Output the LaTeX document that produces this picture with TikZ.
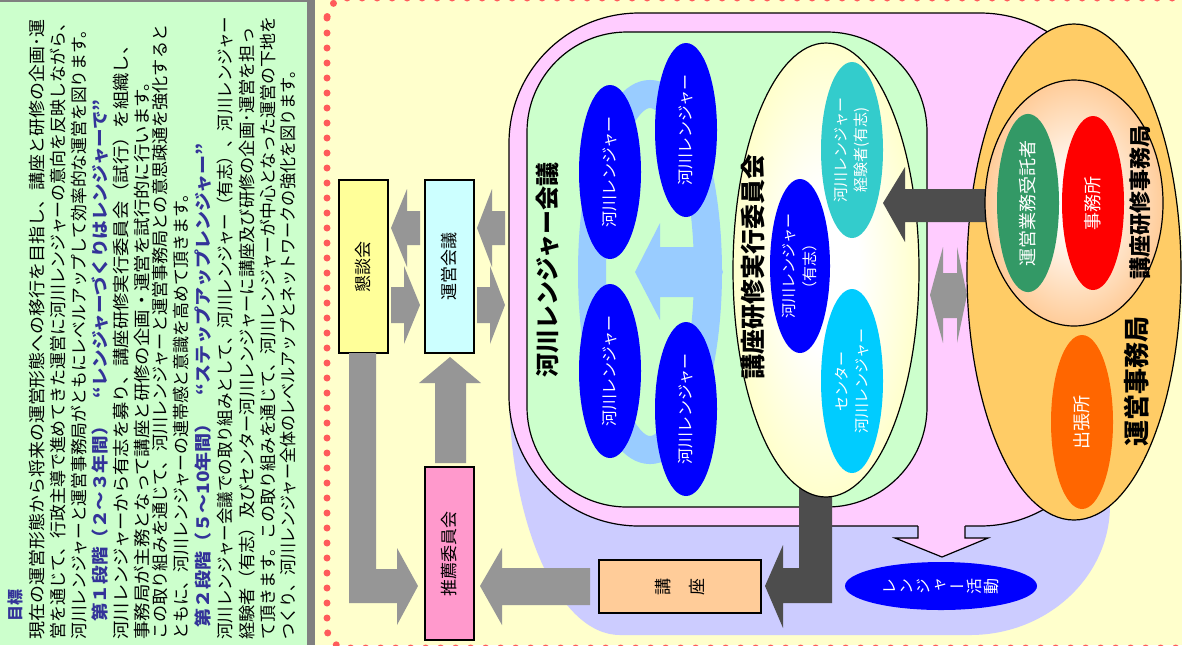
\documentclass[tikz,border=0pt]{standalone}
\usepackage{fontspec}
\usepackage{graphicx}
\setmainfont{Noto Sans CJK JP}
\newfontfamily\vjp[RawFeature={+vert}]{Noto Sans CJK JP}
\usetikzlibrary{shapes.geometric}
\definecolor{panelgreen}{HTML}{CCFFCC}
\definecolor{bgyel}{HTML}{FFFFCC}
\definecolor{barGrey}{HTML}{808080}
\definecolor{dotred}{HTML}{FF5B5B}
\definecolor{lav}{HTML}{CCCCFF}
\definecolor{pinkA}{HTML}{FFCCFF}
\definecolor{kondanc}{HTML}{FFFF99}
\definecolor{ueic}{HTML}{CCFFFF}
\definecolor{suisenc}{HTML}{FF99CC}
\definecolor{kozac}{HTML}{FFCC99}
\definecolor{agrey}{HTML}{969696}
\definecolor{adark}{HTML}{4D4D4D}
\definecolor{lblue}{HTML}{99CCFF}
\definecolor{rblue}{HTML}{0000FF}
\definecolor{tealc}{HTML}{33CCCC}
\definecolor{cyanc}{HTML}{00CCFF}
\definecolor{orangeA}{HTML}{FFCC66}
\definecolor{peachc}{HTML}{FFCC99}
\definecolor{greenc}{HTML}{339966}
\definecolor{redc}{HTML}{FF0000}
\definecolor{orred}{HTML}{FF6600}
\definecolor{txtblue}{HTML}{333399}
\pgfdeclareradialshading{yglow}{\pgfpoint{0bp}{0bp}}{color(0bp)=(white); color(9bp)=(white); color(25bp)=(bgyel); color(50bp)=(bgyel)}
\pgfdeclareradialshading{pglow}{\pgfpoint{0bp}{0bp}}{color(0bp)=(white); color(5bp)=(white); color(25bp)=(peachc); color(50bp)=(peachc)}
\newcommand{\jline}[5]{\node (ln#1) [rotate=90,anchor=west,inner sep=0pt,font=\fontsize{8.5}{10}\selectfont,#5] at (#1,#2) {\resizebox{#3pt}{\height}{#4}};}
\begin{document}
\begin{tikzpicture}[x=0.5pt,y=-0.5pt,
  ell/.style={ellipse, rotate=90, inner sep=0pt, text=white, align=center},
  boxn/.style={draw=black, line width=0.6pt, rotate=90, inner sep=0pt, minimum width=86.5pt, minimum height=24.5pt, font=\fontsize{8.5}{10}\selectfont},
  titlen/.style={rotate=90, inner sep=0pt},
  bluetxt/.style={font=\fontsize{8.5}{10}\selectfont\bfseries, text=txtblue},
  outl/.style={draw=black, line width=0.6pt}]
\useasboundingbox (0,0) rectangle (1182,645);
% panels
\fill[panelgreen] (0,0) rectangle (308,645);
\fill[barGrey] (307,0) rectangle (315,645);
\fill[barGrey] (0,0) rectangle (315,1.5);
\fill[bgyel] (315,0) rectangle (1182,645);
\draw[dotred, line width=3.5pt, dash pattern=on 0pt off 7.5pt, line cap=round, rounded corners=10pt] (327,-2) rectangle (1210,648);
% lavender
\fill[lav] (509,150) -- (509,387) arc[start angle=180, end angle=90, x radius=111, y radius=248] -- (970,635) arc[start angle=90, end angle=0, x radius=140, y radius=130] -- (1110,150) -- cycle;
% pink area
\node (pinkarea) [outl, fill=pinkA, rounded corners=65pt, minimum width=300.5pt, minimum height=256.5pt, inner sep=0pt] at (809.5,269.5) {};
\fill[pinkA] (918,520) -- (918,538) -- (895,538) -- (942,557) -- (988,538) -- (965,538) -- (965,520) -- cycle;
\draw[line width=0.6pt] (918,526) -- (918,538) -- (895,538) -- (942,557) -- (988,538) -- (965,538) -- (965,526);
% green area
\node (greenarea) [outl, fill=panelgreen, rounded corners=50pt, minimum width=200pt, minimum height=237.5pt, inner sep=0pt] at (727,269.5) {};
\draw[lblue, line width=14pt] (650,272) ellipse [x radius=58, y radius=178];
\fill[lblue] (635,272) -- (660,223) -- (660,247) -- (700,247) -- (700,223) -- (723,272) -- (700,320) -- (700,297) -- (660,297) -- (660,320) -- cycle;
\node (r1) [ell, fill=rblue, minimum width=87pt, minimum height=31pt, font=\fontsize{8}{9}\selectfont] at (610,172) {河川レンジャー};
\node (r2) [ell, fill=rblue, minimum width=87pt, minimum height=31pt, font=\fontsize{8}{9}\selectfont] at (686,130) {河川レンジャー};
\node (r3) [ell, fill=rblue, minimum width=87pt, minimum height=31pt, font=\fontsize{8}{9}\selectfont] at (610,371) {河川レンジャー};
\node (r4) [ell, fill=rblue, minimum width=87pt, minimum height=31pt, font=\fontsize{8}{9}\selectfont] at (686,409) {河川レンジャー};
\node (kaigiT) [titlen, font=\fontsize{12}{12}\selectfont\bfseries] at (548,270) {河川レンジャー会議};
% dark L arrow to koza
\fill[adark] (799,470) -- (832,470) -- (832,603) -- (783,603) -- (783,628) -- (765,586) -- (783,545) -- (783,568) -- (799,568) -- cycle;
% jikko ellipse
\node (jikko) [ellipse, outl, shade, shading=yglow, minimum width=93pt, minimum height=227pt] at (826,270) {};
\node (jikkoT) [titlen, font=\fontsize{12.5}{12.5}\selectfont\bfseries] at (753,267) {講座研修実行委員会};
\node (yusi) [ell, fill=rblue, minimum width=87pt, minimum height=30pt, font=\fontsize{7.5}{10.5}\selectfont] at (800,266) {河川レンジャー\\（有志）};
\node (keiken) [ell, fill=tealc, minimum width=88pt, minimum height=31pt, font=\fontsize{7.5}{10}\selectfont] at (852,150) {河川レンジャー\\経験者(有志)};
\node (centerR) [ell, fill=cyanc, minimum width=92pt, minimum height=31pt, font=\fontsize{7.5}{10}\selectfont] at (852,381) {センター\\河川レンジャー};
% double grey arrow
\fill[agrey] (930,295) -- (943,247) -- (943,273) -- (957,273) -- (957,247) -- (967,295) -- (957,343) -- (957,318) -- (943,318) -- (943,343) -- cycle;
% unei ellipse
\node (unei) [ellipse, outl, fill=orangeA, minimum width=107pt, minimum height=248pt] at (1074,272) {};
\fill[adark] (883,203) -- (905,167) -- (905,189) -- (990,189) -- (990,222) -- (905,222) -- (905,242) -- cycle;
\node (jimu) [ellipse, outl, shade, shading=pglow, minimum width=89pt, minimum height=123pt] at (1074,203) {};
\node (jutaku) [ell, fill=greenc, minimum width=87pt, minimum height=31pt, font=\fontsize{9}{10}\selectfont] at (1028,203) {運営業務受託者};
\node (jimusho) [ell, fill=redc, minimum width=87pt, minimum height=31pt, font=\fontsize{9}{10}\selectfont] at (1093,203) {事務所};
\node (shucho) [ell, fill=orred, minimum width=87pt, minimum height=31pt, font=\fontsize{9}{10}\selectfont] at (1082,422) {出張所};
\node (jimuT) [titlen, font=\fontsize{11}{11}\selectfont\bfseries] at (1140,202) {講座研修事務局};
\node (uneiT) [titlen, font=\fontsize{13}{13}\selectfont\bfseries] at (1137,381) {運営事務局};
% left boxes
\node (kondan) [boxn, fill=kondanc] at (363.5,266.5) {懇談会};
\node (ueikaigi) [boxn, fill=ueic] at (449.5,266.5) {運営会議};
\node (suisen) [boxn, fill=suisenc] at (449.5,553.5) {推薦委員会};
\node (koza) [draw=black, line width=0.6pt, rotate=90, inner sep=0pt, fill=kozac, minimum width=26.5pt, minimum height=81pt, align=center, font=\vjp\fontsize{8.5}{17}\selectfont] at (680,586.5) {講\\座};
\node (katsudo) [ell, fill=rblue, minimum width=24pt, minimum height=96pt, font=\vjp\fontsize{8}{8.5}\selectfont] at (941,586) {レ\\ン\\ジ\\ャ\\ー\\活\\動};
% grey arrows
\fill[agrey] (391,228) -- (407,189) -- (407,211) -- (420,211) -- (420,245) -- (407,245) -- (407,267) -- cycle;
\fill[agrey] (420,305) -- (404,266) -- (404,287) -- (391,287) -- (391,323) -- (404,323) -- (404,344) -- cycle;
\fill[agrey] (477,228) -- (492,189) -- (492,211) -- (505,211) -- (505,245) -- (492,245) -- (492,267) -- cycle;
\fill[agrey] (505,305) -- (490,266) -- (490,287) -- (477,287) -- (477,323) -- (490,323) -- (490,344) -- cycle;
\fill[agrey] (450,357) -- (481,383) -- (466,383) -- (466,463) -- (435,463) -- (435,383) -- (419,383) -- cycle;
\fill[agrey] (349,353) -- (376,353) -- (376,569) -- (397,569) -- (397,548) -- (418,586) -- (397,625) -- (397,603) -- (349,603) -- cycle;
\fill[agrey] (480,586) -- (502,548) -- (502,568) -- (590,568) -- (590,605) -- (502,605) -- (502,625) -- cycle;
% text panel
\jline{15}{622}{16}{目標}{font=\fontsize{8}{9}\selectfont\bfseries, text=txtblue}
\jline{37}{640}{310}{現在の運営形態から将来の運営形態への移行を目指し、講座と研修の企画･運}{}
\jline{58}{640}{312.5}{営を通じて、行政主導で進めてきた運営に河川レンジャーの意向を反映しながら、}{}
\jline{79}{640}{309}{河川レンジャーと運営事務局がともにレベルアップして効率的な運営を図ります。}{}
\jline{100}{622}{261}{第１段階（２～３年間）　“レンジャーづくりはレンジャーで”}{bluetxt}
\jline{121}{640}{301.5}{河川レンジャーから有志を募り、講座研修実行委員会（試行）を組織し、}{}
\jline{142}{640}{283.5}{事務局が主務となって講座と研修の企画・運営を試行的に行います。}{}
\jline{160}{640}{307.5}{この取り組みを通じて、河川レンジャーと運営事務局との意思疎通を強化すると}{}
\jline{181}{640}{227}{ともに、河川レンジャーの連帯感と意識を高めて頂きます。}{}
\jline{203}{628}{242}{第２段階（５～10年間）　“ステップアップレンジャー”}{bluetxt}
\jline{225}{640}{311.5}{河川レンジャー会議での取り組みとして、河川レンジャー（有志）、河川レンジャー}{}
\jline{247}{640}{306}{経験者（有志）及びセンター河川レンジャーに講座及び研修の企画･運営を担っ}{}
\jline{268}{640}{311.5}{て頂きます。この取り組みを通じて、河川レンジャーが中心となった運営の下地を}{}
\jline{288}{640}{288.5}{つくり、河川レンジャー全体のレベルアップとネットワークの強化を図ります。}{}
\end{tikzpicture}
\end{document}
